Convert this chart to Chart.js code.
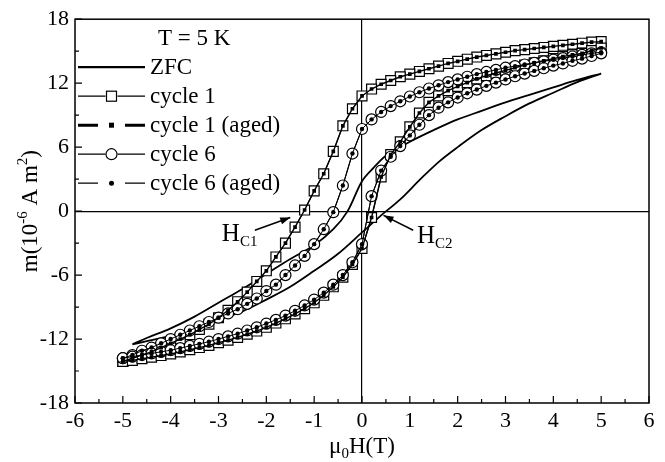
<!DOCTYPE html>
<html>
<head>
<meta charset="utf-8">
<script src="https://cdn.jsdelivr.net/npm/chart.js@4.4.0/dist/chart.umd.min.js"></script>
<style>
  html, body { margin: 0; padding: 0; background: #fff; }
</style>
</head>
<body>
<canvas id="myChart" width="665" height="462"></canvas>
<script>
// tick labels
const xTicks = [-6, -5, -4, -3, -2, -1, 0, 1, 2, 3, 4, 5, 6];
const yTicks = [-18, -12, -6, 0, 6, 12, 18];
const seriesNames = ['ZFC', 'cycle 1', 'cycle 1 (aged)', 'cycle 6', 'cycle 6 (aged)'];
const tempLabel = 'T = 5 K';

// field sweeps (T)
const hDown = [5, 4.8, 4.6, 4.4, 4.2, 4, 3.8, 3.6, 3.4, 3.2, 3, 2.8, 2.6, 2.4, 2.2, 2, 1.8, 1.6, 1.4, 1.2, 1, 0.8, 0.6, 0.4, 0.2, 0,
  -0.2, -0.4, -0.6, -0.8, -1, -1.2, -1.4, -1.6, -1.8, -2, -2.2, -2.4, -2.6, -2.8, -3, -3.2, -3.4, -3.6, -3.8, -4, -4.2, -4.4, -4.6, -4.8, -5];
const hUp = [-5, -4.8, -4.6, -4.4, -4.2, -4, -3.8, -3.6, -3.4, -3.2, -3, -2.8, -2.6, -2.4, -2.2, -2, -1.8, -1.6, -1.4, -1.2, -1, -0.8, -0.6, -0.4, -0.2, 0,
  0.2, 0.4, 0.6, 0.8, 1, 1.2, 1.4, 1.6, 1.8, 2, 2.2, 2.4, 2.6, 2.8, 3, 3.2, 3.4, 3.6, 3.8, 4, 4.2, 4.4, 4.6, 4.8, 5];

// moment m (10^-6 A m^2)
const cycle1Down = [15.9, 15.85, 15.75, 15.65, 15.55, 15.45, 15.35, 15.25, 15.15, 15.05, 14.9, 14.75, 14.6, 14.45, 14.25, 14.05, 13.85, 13.6, 13.35, 13.1, 12.85, 12.6, 12.25, 11.9, 11.45, 10.8,
  9.6, 8.0, 5.6, 3.5, 1.9, 0.1, -1.5, -3.0, -4.3, -5.6, -6.6, -7.6, -8.5, -9.3, -10.0, -10.6, -11.1, -11.6, -12.0, -12.4, -12.8, -13.2, -13.5, -13.8, -14.1];
const cycle1Up = [-14.1, -14.0, -13.85, -13.7, -13.55, -13.4, -13.2, -13.0, -12.8, -12.6, -12.35, -12.1, -11.85, -11.55, -11.25, -10.9, -10.5, -10.1, -9.65, -9.15, -8.6, -7.9, -7.1, -6.2, -5.0, -3.5,
  -0.6, 3.2, 5.3, 6.5, 7.9, 9.2, 10.2, 10.8, 11.3, 11.7, 12.05, 12.4, 12.7, 12.95, 13.2, 13.45, 13.7, 13.9, 14.1, 14.3, 14.5, 14.65, 14.8, 15.05, 15.3];
const cycle6Down = [14.9, 14.8, 14.65, 14.5, 14.35, 14.2, 14.05, 13.9, 13.75, 13.6, 13.45, 13.25, 13.05, 12.85, 12.6, 12.35, 12.1, 11.8, 11.5, 11.15, 10.75, 10.3, 9.85, 9.3, 8.6, 7.7,
  5.4, 2.4, -0.1, -1.7, -3.1, -4.2, -5.1, -6.0, -6.9, -7.5, -8.2, -8.7, -9.2, -9.6, -10.0, -10.4, -10.8, -11.2, -11.6, -12.0, -12.4, -12.8, -13.1, -13.5, -13.8];
const cycle6Up = [-13.8, -13.65, -13.5, -13.35, -13.2, -13.05, -12.85, -12.65, -12.45, -12.25, -12.0, -11.75, -11.5, -11.2, -10.9, -10.55, -10.2, -9.8, -9.35, -8.85, -8.3, -7.65, -6.9, -6.0, -4.8, -3.1,
  1.4, 3.8, 5.1, 6.1, 7.1, 8.1, 9.0, 9.7, 10.2, 10.65, 11.05, 11.4, 11.75, 12.05, 12.35, 12.65, 12.9, 13.15, 13.4, 13.65, 13.85, 14.1, 14.3, 14.55, 14.8];
// aged runs lie on top of the fresh ones
const cycle1AgedDown = cycle1Down.slice();
const cycle1AgedUp = cycle1Up.slice();
const cycle6AgedDown = cycle6Down.slice();
const cycle6AgedUp = cycle6Up.slice();

// ZFC loop
const zfcDownH = [5, 4.5, 4, 3.5, 3, 2.5, 2, 1.5, 1, 0.5, 0.25, 0, -0.3, -0.6, -1, -1.5, -2, -2.5, -3, -3.5, -4, -4.5, -4.8];
const zfcDown = [12.9, 12.3, 11.6, 10.9, 10.2, 9.4, 8.6, 7.6, 6.5, 5.2, 4.1, 2.8, 0, -1.7, -3.2, -4.5, -5.9, -7.3, -8.6, -9.9, -11.0, -11.9, -12.5];
const zfcUpH = [-4.8, -4.5, -4, -3.5, -3, -2.5, -2, -1.5, -1, -0.5, 0, 0.4, 0.8, 1.2, 1.6, 2, 2.5, 3, 3.5, 4, 4.5, 5];
const zfcUp = [-12.5, -12.2, -11.7, -11.0, -10.2, -9.4, -8.3, -7.1, -5.6, -4.0, -2.0, -0.4, 1.1, 2.9, 4.6, 6.0, 7.6, 8.9, 10.1, 11.1, 12.1, 12.9];

// coercive field labels (data units)
const hc1 = { text: 'H', sub: 'C1', at: [-2.93, -2.85], tail: [-2.24, -1.8], head: [-1.5, -0.6] };
const hc2 = { text: 'H', sub: 'C2', at: [1.15, -2.95], tail: [1.07, -1.8], head: [0.45, -0.4] };

function toPoints(h, m) { return h.map((v, i) => ({ x: v, y: m[i] })); }
function loop(hd, md, hu, mu) { return toPoints(hd, md).concat(toPoints(hu, mu)); }

const FONT = "'Liberation Serif', 'Times New Roman', serif";

function arrow(ctx, x0, y0, x1, y1) {
  ctx.beginPath(); ctx.moveTo(x0, y0); ctx.lineTo(x1, y1); ctx.stroke();
  const ang = Math.atan2(y1 - y0, x1 - x0), L = 10, W = 3.5;
  ctx.beginPath();
  ctx.moveTo(x1, y1);
  ctx.lineTo(x1 - L * Math.cos(ang) + W * Math.sin(ang), y1 - L * Math.sin(ang) - W * Math.cos(ang));
  ctx.lineTo(x1 - L * Math.cos(ang) - W * Math.sin(ang), y1 - L * Math.sin(ang) + W * Math.cos(ang));
  ctx.closePath(); ctx.fill();
}

function richText(ctx, parts, x, y, align) {
  // parts: [text, kind] kind 0 normal, 1 sup, -1 sub
  const fnt = k => (k === 0 ? '23px ' : '15px ') + FONT;
  let w = 0;
  parts.forEach(p => { ctx.font = fnt(p[1]); w += ctx.measureText(p[0]).width; });
  let cx = align === 'center' ? x - w / 2 : x;
  ctx.textAlign = 'left'; ctx.textBaseline = 'alphabetic';
  parts.forEach(p => {
    ctx.font = fnt(p[1]);
    const dy = p[1] === 1 ? -10 : (p[1] === -1 ? 5 : 0);
    ctx.fillText(p[0], cx, y + dy);
    cx += ctx.measureText(p[0]).width;
  });
}

function sample(ctx, x0, x1, y, kind) {
  const cx = (x0 + x1) / 2;
  ctx.save();
  if (kind === 'zfc') {
    ctx.lineWidth = 2.2;
    ctx.beginPath(); ctx.moveTo(x0, y); ctx.lineTo(x1, y); ctx.stroke();
  } else if (kind === 'sq' || kind === 'circ') {
    ctx.lineWidth = 1.3;
    ctx.beginPath(); ctx.moveTo(x0, y); ctx.lineTo(cx - 6, y); ctx.moveTo(cx + 6, y); ctx.lineTo(x1, y); ctx.stroke();
    ctx.lineWidth = 1.2;
    if (kind === 'sq') ctx.strokeRect(cx - 5, y - 5, 10, 10);
    else { ctx.beginPath(); ctx.arc(cx, y, 5.5, 0, Math.PI * 2); ctx.stroke(); }
  } else {
    ctx.lineWidth = kind === 'sqAged' ? 3 : 1.3;
    ctx.beginPath(); ctx.moveTo(x0, y); ctx.lineTo(x0 + 20, y); ctx.moveTo(x1 - 20, y); ctx.lineTo(x1, y); ctx.stroke();
    if (kind === 'sqAged') ctx.fillRect(cx - 2.5, y - 2.5, 5, 5);
    else { ctx.beginPath(); ctx.arc(cx, y, 2.5, 0, Math.PI * 2); ctx.fill(); }
  }
  ctx.restore();
}

const inkPlugin = {
  id: 'ink',
  afterDatasetsDraw(chart) {
    const ctx = chart.ctx, a = chart.chartArea;
    const xs = chart.scales.x, ys = chart.scales.y;
    ctx.save();
    ctx.strokeStyle = '#000'; ctx.fillStyle = '#000';
    // frame
    ctx.lineWidth = 1.5;
    ctx.strokeRect(a.left, a.top, a.right - a.left, a.bottom - a.top);
    // inward ticks
    ctx.lineWidth = 1.2;
    ctx.beginPath();
    xTicks.forEach((v, i) => {
      const px = xs.getPixelForValue(v);
      ctx.moveTo(px, a.bottom); ctx.lineTo(px, a.bottom - 7);
      if (i < xTicks.length - 1) {
        const mx = xs.getPixelForValue((v + xTicks[i + 1]) / 2);
        ctx.moveTo(mx, a.bottom); ctx.lineTo(mx, a.bottom - 4);
      }
    });
    yTicks.forEach((v, i) => {
      const py = ys.getPixelForValue(v);
      ctx.moveTo(a.left, py); ctx.lineTo(a.left + 7, py);
      if (i < yTicks.length - 1) {
        const my = ys.getPixelForValue((v + yTicks[i + 1]) / 2);
        ctx.moveTo(a.left, my); ctx.lineTo(a.left + 4, my);
      }
    });
    ctx.stroke();

    // legend
    const kinds = ['zfc', 'sq', 'sqAged', 'circ', 'circAged'];
    ctx.font = '23px ' + FONT;
    ctx.textBaseline = 'middle'; ctx.textAlign = 'left';
    ctx.fillText(tempLabel, a.left + 83, a.top + 20);
    seriesNames.forEach((name, i) => {
      const y = a.top + 48 + i * 29;
      sample(ctx, a.left + 3, a.left + 70, y, kinds[i]);
      ctx.font = '23px ' + FONT;
      ctx.textBaseline = 'middle';
      ctx.fillText(name, a.left + 75, y + 1);
    });

    // coercive field arrows
    ctx.lineWidth = 1.5;
    [hc1, hc2].forEach(h => {
      arrow(ctx, xs.getPixelForValue(h.tail[0]), ys.getPixelForValue(h.tail[1]),
        xs.getPixelForValue(h.head[0]), ys.getPixelForValue(h.head[1]));
      const tx = xs.getPixelForValue(h.at[0]), ty = ys.getPixelForValue(h.at[1]);
      ctx.font = '25px ' + FONT; ctx.textBaseline = 'alphabetic'; ctx.textAlign = 'left';
      ctx.fillText(h.text, tx, ty);
      const w = ctx.measureText(h.text).width;
      ctx.font = '15px ' + FONT;
      ctx.fillText(h.sub, tx + w, ty + 5);
    });

    // axis titles
    richText(ctx, [['\u03bc', 0], ['0', -1], ['H(T)', 0]], (a.left + a.right) / 2, a.bottom + 50, 'center');
    ctx.save();
    ctx.translate(37, (a.top + a.bottom) / 2);
    ctx.rotate(-Math.PI / 2);
    richText(ctx, [['m(10', 0], ['-6', 1], [' A m', 0], ['2', 1], [')', 0]], 0, 0, 'center');
    ctx.restore();
    ctx.restore();
  }
};

const zeroLine = c => (c.tick && c.tick.value === 0 ? '#000' : 'rgba(0,0,0,0)');

new Chart(document.getElementById('myChart'), {
  type: 'scatter',
  data: {
    datasets: [
      { label: seriesNames[2], data: loop(hDown, cycle1AgedDown, hUp, cycle1AgedUp), showLine: true,
        borderColor: '#000', borderWidth: 1.4, pointStyle: 'rect', pointRadius: 2.6,
        pointBackgroundColor: '#000', pointBorderWidth: 0, order: 0 },
      { label: seriesNames[4], data: loop(hDown, cycle6AgedDown, hUp, cycle6AgedUp), showLine: true,
        borderColor: '#000', borderWidth: 1, pointStyle: 'circle', pointRadius: 2.2,
        pointBackgroundColor: '#000', pointBorderWidth: 0, order: 0 },
      { label: seriesNames[3], data: loop(hDown, cycle6Down, hUp, cycle6Up), showLine: true,
        borderColor: '#000', borderWidth: 1.1, pointStyle: 'circle', pointRadius: 5.5,
        pointBackgroundColor: '#fff', pointBorderColor: '#000', pointBorderWidth: 1.2, order: 1 },
      { label: seriesNames[1], data: loop(hDown, cycle1Down, hUp, cycle1Up), showLine: true,
        borderColor: '#000', borderWidth: 1.1, pointStyle: 'rect', pointRadius: 7,
        pointBackgroundColor: '#fff', pointBorderColor: '#000', pointBorderWidth: 1.2, order: 2 },
      { label: seriesNames[0], data: loop(zfcDownH, zfcDown, zfcUpH, zfcUp), showLine: true,
        borderColor: '#000', borderWidth: 1.8, pointRadius: 0, tension: 0.35, order: 3 }
    ]
  },
  options: {
    responsive: false,
    animation: false,
    devicePixelRatio: 1,
    layout: { padding: { left: 0, right: 16, top: 18, bottom: 0 } },
    plugins: { legend: { display: false }, tooltip: { enabled: false } },
    scales: {
      x: {
        type: 'linear', min: -6, max: 6,
        afterBuildTicks: s => { s.ticks = xTicks.map(v => ({ value: v })); },
        afterFit: s => { s.height = 59; },
        grid: { color: zeroLine, lineWidth: 1.2, drawTicks: false },
        border: { display: false },
        ticks: { color: '#000', font: { family: FONT, size: 22 }, padding: 5, maxRotation: 0, autoSkip: false }
      },
      y: {
        type: 'linear', min: -18, max: 18,
        afterBuildTicks: s => { s.ticks = yTicks.map(v => ({ value: v })); },
        afterFit: s => { s.width = 75; },
        grid: { color: zeroLine, lineWidth: 1.2, drawTicks: false },
        border: { display: false },
        ticks: { color: '#000', font: { family: FONT, size: 22 }, padding: 6, autoSkip: false }
      }
    }
  },
  plugins: [inkPlugin]
});
</script>
</body>
</html>
